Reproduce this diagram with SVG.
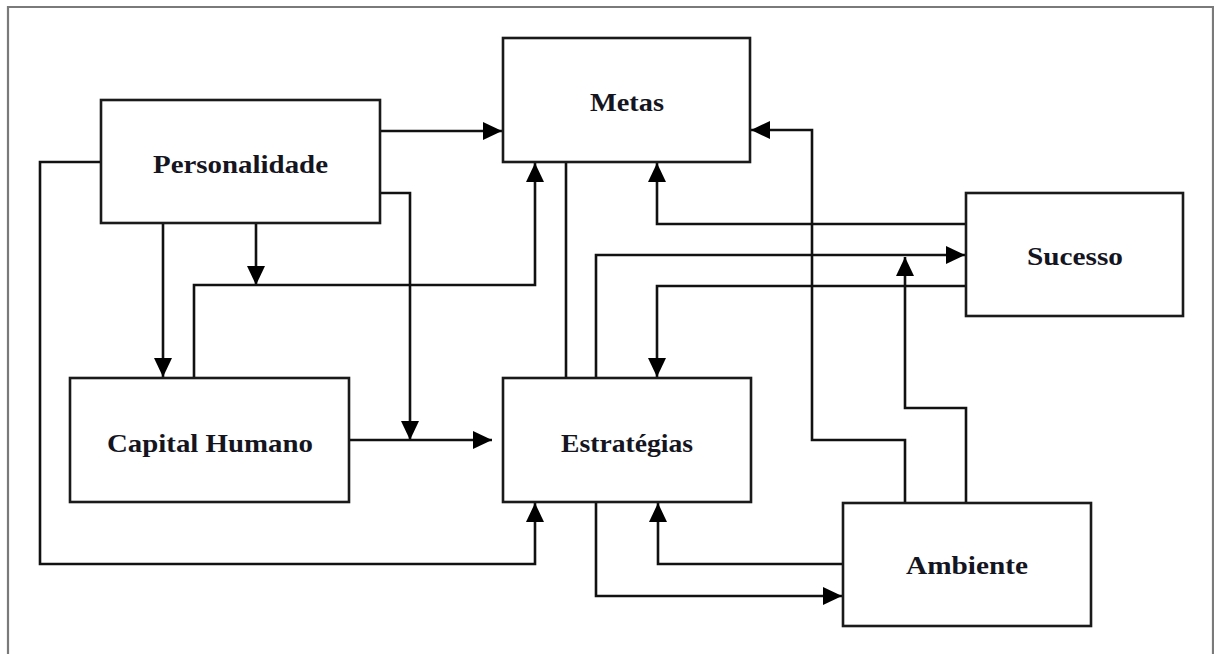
<svg xmlns="http://www.w3.org/2000/svg" width="1214" height="654" viewBox="0 0 1214 654">
<defs>
<marker id="arr" markerUnits="userSpaceOnUse" markerWidth="20" markerHeight="20" refX="19" refY="10" orient="auto" viewBox="0 0 20 20">
<path d="M0,1 L19,10 L0,19 z" fill="#000"/>
</marker>
<style>
.box{fill:#fff;stroke:#1a1a1a;stroke-width:2.6}
.lbl{font-family:"Liberation Serif","DejaVu Serif",serif;font-weight:bold;font-size:25px;fill:#15151f;text-anchor:middle}
.c{fill:none;stroke:#111;stroke-width:2.6}
.a{marker-end:url(#arr)}
</style>
</defs>
<rect width="1214" height="654" fill="#fff"/>
<path d="M8,654 V7 H1213 V654" fill="none" stroke="#7a7a7a" stroke-width="2.2"/>
<g id="connectors">
<path class="c a" d="M380,131 H502"/>
<path class="c a" d="M101,162 H40 V564 H535 V503"/>
<path class="c a" d="M163,223 V377"/>
<path class="c a" d="M256,223 V285"/>
<path class="c a" d="M194,378 V285 H535 V163"/>
<path class="c a" d="M380,193 H410 V440"/>
<path class="c a" d="M349,440 H492"/>
<path class="c" d="M566,162 V378"/>
<path class="c a" d="M596,378 V255 H965"/>
<path class="c a" d="M966,224 H657 V163"/>
<path class="c a" d="M966,286 H657 V377"/>
<path class="c a" d="M905,503 V440 H812 V130 H751"/>
<path class="c a" d="M966,503 V408 H905 V257"/>
<path class="c a" d="M843,564 H658 V503"/>
<path class="c a" d="M596,502 V596 H842"/>
</g>
<g id="personalidade">
<rect class="box" x="101" y="100" width="279" height="123"/>
<text class="lbl" x="240.5" y="173" textLength="175" lengthAdjust="spacingAndGlyphs">Personalidade</text>
</g>
<g id="metas">
<rect class="box" x="503" y="38" width="247" height="124"/>
<text class="lbl" x="627" y="111" textLength="74" lengthAdjust="spacingAndGlyphs">Metas</text>
</g>
<g id="sucesso">
<rect class="box" x="966" y="193" width="217" height="123"/>
<text class="lbl" x="1075" y="265" textLength="96" lengthAdjust="spacingAndGlyphs">Sucesso</text>
</g>
<g id="capital-humano">
<rect class="box" x="70" y="378" width="279" height="124"/>
<text class="lbl" x="210" y="452" textLength="206" lengthAdjust="spacingAndGlyphs">Capital Humano</text>
</g>
<g id="estrategias">
<rect class="box" x="503" y="378" width="248" height="124"/>
<text class="lbl" x="627" y="452" textLength="132" lengthAdjust="spacingAndGlyphs">Estratégias</text>
</g>
<g id="ambiente">
<rect class="box" x="843" y="503" width="248" height="123"/>
<text class="lbl" x="967" y="574" textLength="122" lengthAdjust="spacingAndGlyphs">Ambiente</text>
</g>
</svg>
